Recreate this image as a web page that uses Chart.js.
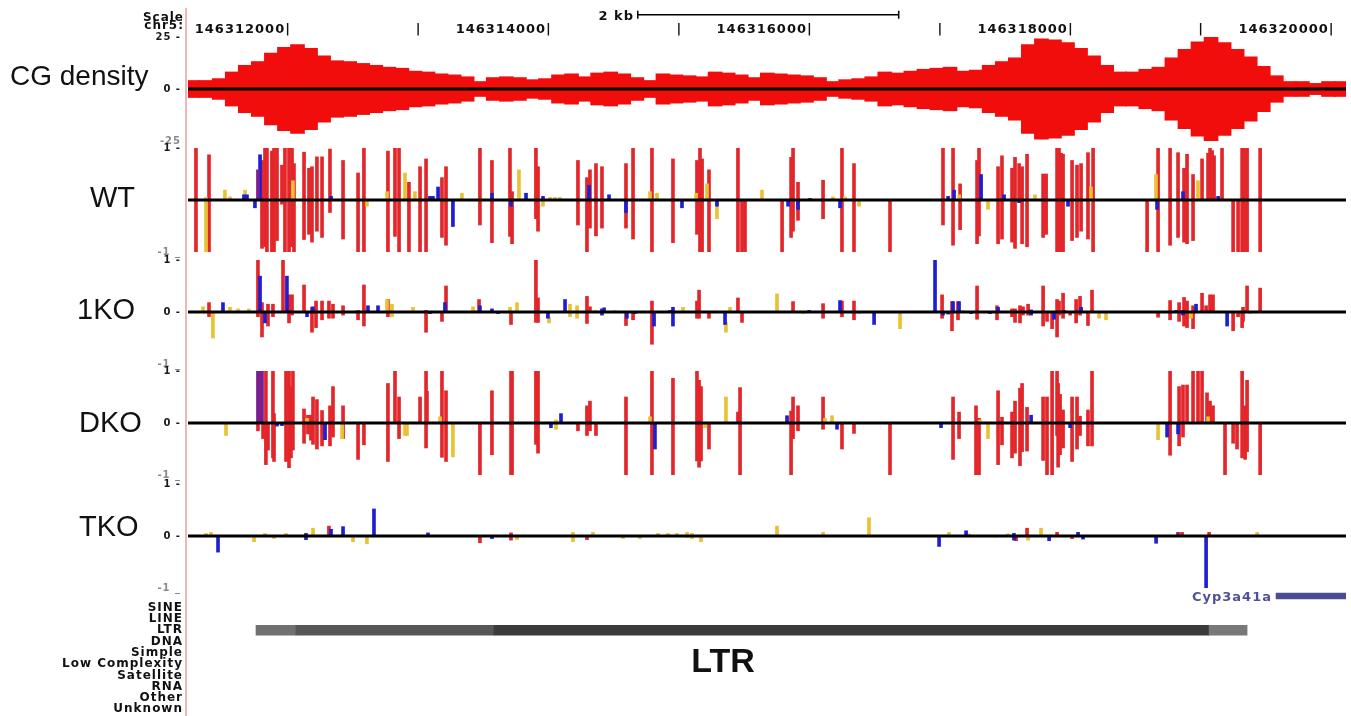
<!DOCTYPE html>
<html lang="en">
<head>
<meta charset="UTF-8">
<title>CG density and methylation tracks, chr5</title>
<script src="https://cdn.jsdelivr.net/npm/chart.js"></script>
<style>
  html, body { margin: 0; padding: 0; background: #fff; }
  body { position: relative; width: 1351px; height: 716px; overflow: hidden; }
  canvas { position: absolute; left: 0; }
  .txt { position: absolute; white-space: nowrap; }
  .small { font: bold 12px 'DejaVu Sans', sans-serif; letter-spacing: 1px; line-height: 12px; color: #111; text-align: right; }
  .track { font: 29px 'Liberation Sans', Arial, sans-serif; line-height: 29px; color: #111; }
  #edge { position: absolute; left: 185px; top: 8px; width: 1.5px; height: 708px; background: #f2b4b4; }
</style>
</head>
<body>
  <div id="edge"></div>

  <canvas id="ruler" width="1351" height="36" style="top:0"></canvas>
  <canvas id="cg" width="1351" height="130" style="top:24px"></canvas>
  <canvas id="wt" width="1351" height="130" style="top:135px"></canvas>
  <canvas id="ko1" width="1351" height="130" style="top:247px"></canvas>
  <canvas id="dko" width="1351" height="130" style="top:358px"></canvas>
  <canvas id="tko" width="1351" height="130" style="top:471px"></canvas>
  <canvas id="gene" width="1351" height="32" style="top:580px"></canvas>
  <canvas id="rmsk" width="1351" height="153" style="top:582px"></canvas>

  <div class="txt small" style="right:1167px; top:10.5px">Scale</div>
  <div class="txt small" style="right:1167px; top:19px">chr5:</div>
  <div class="txt small" style="right:717px; top:8.5px; font-size:13px; line-height:13px">2 kb</div>
  <div class="txt small" style="right:79px; top:590px; font-size:13px; line-height:13px; color:#50509a">Cyp3a41a</div>

  <div class="txt track" style="left:10px; top:62px; font-size:28px; line-height:28px">CG density</div>
  <div class="txt track" style="left:90px; top:183px">WT</div>
  <div class="txt track" style="left:77px; top:295px">1KO</div>
  <div class="txt track" style="left:79px; top:408px">DKO</div>
  <div class="txt track" style="left:79px; top:512px">TKO</div>
  <div class="txt" style="left:623px; width:200px; text-align:center; top:643px; font: bold 34px 'Liberation Sans', Arial, sans-serif; line-height:34px; color:#111">LTR</div>

<script>
  // window on chr5 and ruler
  const chromBase = 146311000;
  const viewStart = 146311211;
  const viewEnd = 146320084;
  const rulerTicks = [146312000, 146313000, 146314000, 146315000, 146316000,
                      146317000, 146318000, 146319000, 146320000];
  const scaleBar = [146314659, 146316659];

  // CG density, 100 bp bins starting at cgStart (drawn mirrored)
  const cgStart = 146311250, cgStep = 100;
  const cgDensity = [
    4.1, 4.1, 5.0, 8.2, 11.4, 13.2, 17.3, 20.0, 21.4, 19.5,
    15.9, 13.6, 13.2, 12.3, 11.4, 10.5, 10.0, 8.6, 8.2, 7.3,
    6.8, 5.9, 3.6, 5.5, 5.9, 5.5, 4.5, 5.0, 6.8, 7.3,
    5.9, 7.7, 8.2, 7.3, 5.5, 4.1, 7.3, 6.8, 6.4, 5.9,
    8.2, 7.7, 6.8, 5.5, 7.7, 7.3, 6.8, 6.4, 5.5, 3.6,
    4.5, 5.0, 5.9, 8.2, 7.7, 8.6, 9.5, 10.0, 10.5, 8.6,
    9.1, 11.4, 13.2, 15.0, 21.4, 24.1, 23.6, 22.3, 19.5, 15.9,
    11.4, 8.2, 8.2, 9.5, 10.5, 15.0, 19.1, 22.7, 25.0, 22.3,
    19.1, 15.5, 10.9, 6.4, 3.6, 3.6, 2.7, 3.6, 3.6
  ];

  // methylation bars: [offset from chromBase (bp), low, high]
  const wtCG = [
    [272,-1,1],[372,-1,0.87],[778,-0.93,0.76],[801,-0.9,1],[816,-1,1],[854,-1,0.94],[870,-1,1],
    [893,-0.78,1],[931,-0.08,0.67],[954,-1,1],[985,-1,1],[1008,-0.9,1],[1023,-1,0.7],
    [1100,-0.76,0.92],[1138,-0.66,0.61],[1161,-0.81,0.64],[1199,-0.6,0.83],[1238,-0.72,0.83],
    [1299,-0.24,0.98],[1399,-0.75,0.76],[1514,-1,0.52],[1559,-1,1],[1743,-1,0.94],[1797,-0.7,1],
    [1828,-1,1],[1904,-1,0.34],[1989,-1,0.64],[2035,-1,0.79],[2157,-0.72,0.43],[2188,-0.87,0.64],
    [2448,-0.48,1],[2540,-0.82,0.76],[2678,-0.7,1],[2694,-0.84,0.16],[2877,-0.36,1],[2893,-0.6,0.64],
    [3199,-0.48,0.76],[3268,-1,0.43],[3291,-0.54,0.58],[3337,-0.69,0.7],[3383,-0.54,0.64],
    [3567,-0.54,0.7],[3621,-0.75,1],[3766,-1,1],[3927,-0.82,0.79],[4111,-0.66,0.76],[4134,-1,1],
    [4150,-1,0.79],[4203,-1,0.58],[4425,-1,1],[4456,-1,0],[4479,-1,0],[4763,-1,0],[4832,-0.72,0.82],
    [4847,-0.6,1],[4885,-0.39,0.34],[5077,-0.36,0.38],[5222,-1,1],[5314,-1,0.7],[5590,-1,0],
    [5996,-0.48,1],[6073,-0.87,1],[6127,-0.57,0.31],[6257,-0.84,0.76],[6272,-0.69,1],[6418,-0.84,0.64],
    [6448,-0.75,0.85],[6525,-0.81,0.61],[6548,-0.93,0.82],[6579,-0.02,0.7],[6602,-0.84,0.64],
    [6640,-0.9,0.88],[6763,-0.72,0.5],[6786,-0.66,0.5],[6870,-1,1],[6885,-1,1],[6901,-1,0.9],
    [6916,-1,0.88],[6985,-0.78,0.76],[7023,-0.72,0.67],[7054,-0.6,0.7],[7107,-0.75,0.91],[7146,-1,1],
    [7560,-1,0],[7644,-1,1],[7736,-0.87,1],[7797,-0.72,0.91],[7843,-0.81,0.61],[7866,-0.84,0.88],
    [7912,-0.78,0.49],[7981,0,0.79],[8027,0,0.9],[8042,0,1],[8058,0,0.95],[8073,0,0.85],[8134,0,1],
    [8219,-1,0],[8257,-1,0],[8288,-1,1],[8303,-1,1],[8326,-1,1],[8426,-1,1]
  ];
  const wtCHG = [
    [640,0,0.1],[663,0,0.1],[724,-0.15,0],[763,0,0.87],[1307,0,0.07],[2065,0,0.07],[2088,0,0.07],
    [2127,0,0.25],[2241,-0.51,0],[2540,0,0.13],[2686,-0.12,0],[2801,0,0.13],[2931,0,0.07],[3284,0,0.28],
    [3437,0,0.1],[3567,-0.24,0],[3996,-0.15,0],[4264,-0.12,0],[4809,-0.12,0],[4885,-0.18,0],[4977,0,0.03],
    [5207,-0.15,0],[6035,0,0.07],[6081,0,0.19],[6288,0,0.49],[6464,0,0.1],[6579,-0.05,0],[6954,-0.12,0],
    [7636,-0.18,0],[7835,0,0.16],[8104,0,0.07]
  ];
  const wtCHH = [
    [349,-1,0.05],[494,0,0.19],[533,0,0.06],[648,0,0.19],[1015,0,0.37],[1582,-0.12,0],[1736,0,0.16],
    [1874,0,0.52],[1950,0,0.16],[2310,0,0.13],[2747,0,0.58],[2931,-0.12,0],[2985,0,0.05],[3023,0,0.05],
    [3061,0,0.05],[3751,0,0.16],[3805,0,0.13],[4104,0,0.13],[4188,0,0.31],[4264,-0.36,0],[4609,0,0.19],
    [5153,0,0.06],[5245,0,0.06],[5353,-0.12,0],[6120,0,0.1],[6341,-0.18,0],[6701,0,0.1],[7130,0,0.25],
    [7628,0,0.49],[7950,0,0.37]
  ];
  const wtMix = [[747,0,0.58]];

  const ko1CG = [
    [372,-0.09,0.18],[747,-0.09,1],[778,-0.48,0.18],[824,-0.27,0.15],[862,-0.09,0.15],[939,0,1],
    [985,-0.21,0.33],[1008,-0.06,0.33],[1100,0,0.52],[1161,-0.39,0.09],[1192,-0.3,0.21],[1238,-0.15,0.21],
    [1291,-0.12,0.21],[1322,-0.12,0.15],[1399,-0.06,0.12],[1514,-0.15,0.03],[1559,-0.27,0.52],
    [1743,-0.09,0.24],[2035,-0.39,0.03],[2157,-0.18,0],[2188,0,0.5],[2441,0,0.24],[2686,-0.24,0],
    [2877,-0.2,1],[2893,-0.2,0.27],[3268,-0.22,0.3],[3291,0,0.1],[3567,-0.26,0],[3621,-0.15,0],
    [3766,-0.62,0.21],[4111,-0.12,0.21],[4127,-0.12,0.42],[4203,-0.12,0],[4425,0,0.27],[4456,-0.2,0],
    [4847,0,0.2],[5077,-0.12,0.16],[5222,-0.09,0.21],[5314,-0.15,0.21],[5989,-0.12,0.33],[6065,-0.36,0.2],
    [6111,-0.15,0.2],[6257,-0.14,0.5],[6410,-0.15,0.12],[6525,-0.09,0.06],[6548,-0.2,0.06],
    [6586,-0.21,0.12],[6609,-0.06,0.1],[6648,-0.06,0.15],[6763,-0.27,0.5],[6793,-0.18,0],[6832,-0.32,0],
    [6870,-0.48,0.24],[6885,-0.06,0.21],[6916,-0.12,0.36],[6970,-0.06,0],[7016,-0.21,0.24],
    [7046,-0.06,0.3],[7107,-0.26,0],[7138,0,0.42],[7644,-0.1,0],[7736,-0.15,0.22],[7805,-0.18,0.18],
    [7843,-0.27,0.28],[7866,-0.3,0.21],[7912,-0.32,0.12],[7981,0,0.36],[8012,0,0.12],[8042,0,0.33],
    [8065,0,0.33],[8219,-0.36,0],[8257,-0.09,0],[8288,-0.3,0],[8295,-0.18,0.09],[8326,0,0.5],[8426,0,0.46]
  ];
  const ko1CHG = [
    [479,0,0.18],[763,0,0.69],[801,-0.21,0],[969,0,0.69],[1123,-0.09,0],[1168,0,0.1],[1590,0,0.12],
    [1667,0,0.12],[2065,-0.03,0],[2180,0,0.18],[2448,0,0.12],[2540,0,0.06],[2586,-0.03,0],[2969,-0.12,0],
    [3100,0,0.24],[3383,-0.06,0.06],[3399,0,0.08],[3574,-0.12,0],[3636,-0.03,0],[3782,-0.27,0],
    [3904,0,0.03],[3927,-0.27,0.09],[4326,-0.24,0],[4970,0,0.03],[5207,0,0.22],[5468,-0.24,0],
    [5935,0,1],[5996,-0.06,0],[6035,-0.04,0],[6073,0,0.2],[6119,0,0.2],[6211,-0.03,0],[6356,-0.03,0],
    [6418,0,0.09],[6671,-0.06,0.04],[6847,-0.14,0],[6924,0,0.03],[7054,0,0.09],[7782,0,0.03],
    [7835,-0.06,0.03],[7935,0,0.15],[8173,-0.27,0]
  ];
  const ko1CHH = [
    [326,0,0.1],[402,-0.5,0],[533,0,0.09],[594,0,0.06],[678,0,0.06],[1736,0,0.24],[1774,-0.09,0.15],
    [1935,0,0.09],[2395,0,0.1],[2678,0,0.09],[2732,0,0.18],[2977,-0.21,-0.1],[3138,-0.09,0.15],
    [3192,-0.12,0.12],[3330,0,0.03],[3483,0,0.03],[4004,0,0.09],[4333,-0.39,-0.2],[4364,0,0.09],
    [4724,0,0.35],[4924,-0.03,0],[5353,-0.03,0],[5667,-0.32,0],[6150,0,0.03],[7192,-0.12,0],
    [7245,-0.15,0],[7897,-0.12,0],[8349,-0.03,0]
  ];

  const dkoCG = [
    [747,-0.15,0],[786,-0.3,0],[808,-0.8,1],[824,-0.52,0],[862,-0.67,1],[870,-0.74,0.18],[962,-0.74,1],
    [985,-0.86,1],[1000,-0.67,0.7],[1015,-0.52,1],[1100,-0.39,0.27],[1130,-0.21,0.15],[1153,-0.33,0.15],
    [1169,-0.41,0.5],[1199,-0.5,0.45],[1238,-0.44,0.24],[1299,-0.44,0.33],[1322,-0.27,0.7],
    [1399,-0.3,0.33],[1514,-0.7,0],[1559,-0.42,0],[1743,-0.74,0.76],[1797,0,1],[1828,-0.3,0.5],
    [1989,0,0.5],[2035,-0.48,1],[2042,0,0.61],[2157,-0.66,1],[2188,-0.74,0.62],[2448,-1,0],
    [2540,-0.61,0.62],[2686,-1,1],[2694,-1,1],[2877,-0.41,1],[2893,-0.58,1],[3199,-0.15,0],
    [3268,-0.24,0.33],[3291,-0.15,0.42],[3337,-0.24,0],[3567,-1,0.5],[3766,-1,1],[3927,-1,0.86],
    [4111,-0.73,1],[4127,-0.85,0.82],[4142,-0.73,0.7],[4203,-0.5,0],[4425,0,0.21],[4441,-1,0.68],
    [4832,-1,0.23],[4847,-0.3,0.5],[4885,-0.15,0.33],[5077,-0.12,0.5],[5222,-0.5,0],[5314,-0.2,0],
    [5590,-1,0],[6073,-0.7,0.5],[6119,-0.3,0.21],[6249,-1,0.33],[6272,-1,0.09],[6418,-0.8,0.62],
    [6448,-0.42,0.11],[6525,-0.67,0.21],[6548,-0.58,0.42],[6586,-0.82,0.67],[6602,-0.55,0.76],
    [6640,-0.54,0.3],[6763,-0.72,0.5],[6793,-1,0.5],[6832,-1,1],[6870,-0.24,1],[6878,-0.85,0.76],
    [6893,-0.61,0.55],[6916,-0.48,0.25],[6985,-0.74,0.5],[7023,-0.5,0.5],[7046,-0.24,0.13],
    [7107,-0.44,0.25],[7138,-0.44,1],[7736,-0.62,1],[7805,-0.44,0.7],[7835,-0.27,0.73],[7866,0,0.73],
    [7912,0,1],[7950,0,1],[7981,0,1],[8019,0,0.58],[8042,0,0.42],[8065,0,0.33],[8157,-1,0],
    [8219,-0.39,0],[8249,-0.5,0],[8288,-0.67,1],[8311,-0.7,0.33],[8326,-0.55,0.82],[8426,-1,0]
  ];
  const dkoCHG = [
    [893,-0.06,0],[931,-0.05,0],[1261,-0.32,0],[2992,-0.09,0],[3069,0,0.18],[3789,-0.5,0],
    [4801,0,0.14],[5184,-0.12,0],[5981,-0.09,0],[6671,0,0.15],[6970,-0.09,0],[7713,-0.27,0],[7797,-0.21,0]
  ];
  const dkoCHH = [
    [502,-0.24,0],[1123,0,0.09],[1392,-0.3,0],[1874,-0.24,0],[1889,-0.24,0],[2142,0,0.12],[2241,-0.65,0],
    [3031,-0.12,0.06],[3751,0,0.12],[4173,-0.09,0],[4333,0,0.5],[5092,0,0.09],[5146,0,0.14],
    [6280,0,0.06],[6341,-0.3,0],[7644,-0.32,0],[8027,0,0.12]
  ];
  const dkoMix = [[747,0,1],[763,0,1],[778,0,1]];

  const tkoCG = [
    [1291,0,0.19],[2448,-0.13,0],[2686,-0.08,0.06],[3268,-0.07,0],[6556,-0.09,0],[6640,0,0.15],
    [6870,0,0.07],[6985,-0.05,0],[7828,0,0.07],[8035,0,0.07]
  ];
  const tkoCHG = [
    [441,-0.31,0],[1115,-0.07,0.05],[1307,0,0.13],[1399,0,0.18],[1636,0,0.52],[2050,0,0.06],
    [2540,-0.05,0],[5966,-0.2,0],[6173,0,0.1],[6540,-0.08,0.05],[6809,-0.09,0],[7031,0,0.07],
    [7069,-0.06,0],[7629,-0.14,0],[8012,-1,0]
  ];
  const tkoCHH = [
    [349,0,0.05],[387,0,0.07],[717,-0.11,0],[801,0,0.05],[870,-0.05,0],[962,0,0.05],[1169,0,0.15],
    [1475,-0.11,0],[1582,-0.15,0],[2732,-0.07,0],[3161,-0.11,0.07],[3314,0,0.07],[3544,-0.05,0],
    [3674,-0.05,0],[3812,0,0.05],[3889,0,0.05],[3958,0,0.05],[4035,-0.03,0.07],[4073,-0.05,0.05],
    [4142,-0.11,0],[4724,0,0.19],[5077,0,0.07],[5429,0,0.35],[6042,0,0.07],[6196,0,0.04],
    [6395,-0.02,0],[6494,0,0.04],[6648,-0.08,0],[6747,0,0.15],[8403,0,0.07]
  ];
  const tkoMix = [[7797,0,0.07]];

  // y tick labels
  const cgTicks = [-25, 0, 25], cgTickLabels = ['-25', '0 -', '25 -'];
  const wtTicks = [-1, 1], wtTickLabels = ['-1 _', '1 -'];
  const koTicks = [-1, 0, 1], koTickLabels = ['-1 _', '0 -', '1 -'];

  // gene and RepeatMasker
  const geneName = 'Cyp3a41a';
  const geneSpan = [146319548, 146320600];
  const repeatClasses = ['SINE', 'LINE', 'LTR', 'DNA', 'Simple', 'Low Complexity',
                         'Satellite', 'RNA', 'Other', 'Unknown'];
  const ltrStart = [146311732, 146312038, 146313556, 146319035];
  const ltrEnd   = [146312038, 146313556, 146319035, 146319326];
  const ltrScore = [0.56, 0.66, 0.77, 0.53];

  Chart.defaults.font.family = "'DejaVu Sans', sans-serif";
  Chart.defaults.events = [];
  Chart.defaults.plugins.legend.display = false;
  Chart.defaults.plugins.tooltip.enabled = false;

  const colours = { cg: '#e3262a', chg: '#1e1ed2', chh: '#e9c233', mix: '#7b1f8f' };
  const tickFont = { size: 10, weight: 'bold' };

  // UCSC text is stretched wide, a bit of letter spacing gets close
  const wideText = { id: 'wideText', beforeDraw(chart) { chart.ctx.letterSpacing = '1px'; } };

  const zeroLine = {
    id: 'zeroLine',
    afterDatasetsDraw(chart) {
      const { ctx, chartArea: a, scales: { y } } = chart;
      const py = y.getPixelForValue(0);
      ctx.save();
      ctx.strokeStyle = '#000';
      ctx.lineWidth = 3;
      ctx.beginPath();
      ctx.moveTo(a.left, py);
      ctx.lineTo(a.right, py);
      ctx.stroke();
      ctx.restore();
    }
  };

  function bars(rows, colour) {
    return {
      data: rows.map(([off, lo, hi]) => ({ x: chromBase + off, y: [lo, hi] })),
      backgroundColor: colour,
      borderWidth: 0,
      barThickness: 3,
      grouped: false
    };
  }

  function trackChart(id, datasets, range, ticks, labels) {
    return new Chart(document.getElementById(id), {
      type: 'bar',
      data: { datasets },
      options: {
        responsive: false,
        animation: false,
        devicePixelRatio: 1,
        layout: { padding: { top: 10, bottom: 10, left: 0, right: 5 } },
        scales: {
          x: { type: 'linear', min: viewStart, max: viewEnd, display: false, offset: false, grid: { offset: false } },
          y: {
            min: -range, max: range,
            grid: { display: false, drawTicks: false },
            border: { display: false },
            afterFit: s => { s.width = 188; },
            afterBuildTicks: s => { s.ticks = ticks.map(v => ({ value: v })); },
            ticks: {
              padding: 7,
              font: tickFont,
              color: c => c.tick.value < 0 ? '#8a8a8a' : '#1a1a1a',
              callback: (v, i) => labels[i]
            }
          }
        }
      },
      plugins: [zeroLine, wideText]
    });
  }

  // methylation tracks: mixed and CHG drawn on top, CG underneath
  function contextSets(cg, chg, chh, mix) {
    const sets = [];
    if (mix) sets.push(bars(mix, colours.mix));
    sets.push(bars(chg, colours.chg), bars(chh, colours.chh), bars(cg, colours.cg));
    return sets;
  }

  // ruler with 2 kb scale bar
  new Chart(document.getElementById('ruler'), {
    type: 'line',
    data: {
      datasets: [{
        data: scaleBar.map(x => ({ x, y: 0 })),
        borderColor: '#000',
        borderWidth: 1.5,
        pointStyle: 'line',
        pointRotation: 90,
        pointRadius: 4,
        pointBorderColor: '#000',
        pointBorderWidth: 1.5
      }]
    },
    options: {
      responsive: false,
      animation: false,
      devicePixelRatio: 1,
      layout: { padding: { top: 7.6, bottom: 0, left: 188, right: 5 } },
      scales: {
        x: {
          type: 'linear', min: viewStart, max: viewEnd, position: 'bottom', offset: false,
          grid: { display: false, drawTicks: false },
          border: { display: false },
          afterBuildTicks: s => { s.ticks = rulerTicks.map(v => ({ value: v })); },
          ticks: {
            autoSkip: false, maxRotation: 0, align: 'end', padding: 0,
            font: { size: 13, weight: 'bold' }, color: '#111',
            callback: v => (v % 2000 === 0 ? String(v) : '') + '|'
          }
        },
        y: { display: false, min: -1, max: 1 }
      }
    },
    plugins: [wideText]
  });

  // CG density, mirrored around zero
  trackChart('cg', [{
    data: cgDensity.map((v, i) => ({ x: cgStart + i * cgStep, y: [-v, v] })),
    backgroundColor: '#f20d0d',
    borderWidth: 0,
    barThickness: 14,
    grouped: false
  }], 25, cgTicks, cgTickLabels);

  trackChart('wt', contextSets(wtCG, wtCHG, wtCHH, wtMix), 1, wtTicks, wtTickLabels);
  trackChart('ko1', contextSets(ko1CG, ko1CHG, ko1CHH), 1, koTicks, koTickLabels);
  trackChart('dko', contextSets(dkoCG, dkoCHG, dkoCHH, dkoMix), 1, koTicks, koTickLabels);
  trackChart('tko', contextSets(tkoCG, tkoCHG, tkoCHH, tkoMix), 1, koTicks, koTickLabels);

  // gene model
  new Chart(document.getElementById('gene'), {
    type: 'bar',
    data: {
      labels: [geneName],
      datasets: [{ data: [{ y: geneName, x: geneSpan }], backgroundColor: '#4c4c95', barThickness: 6 }]
    },
    options: {
      indexAxis: 'y',
      responsive: false,
      animation: false,
      devicePixelRatio: 1,
      layout: { padding: { top: 10, bottom: 10, left: 188, right: 5 } },
      scales: {
        x: { type: 'linear', min: viewStart, max: viewEnd, display: false },
        y: { display: false }
      }
    }
  });

  // RepeatMasker, shade by score
  const shade = s => { const g = Math.round(255 * (1 - s)); return `rgb(${g},${g},${g})`; };
  new Chart(document.getElementById('rmsk'), {
    type: 'bar',
    data: {
      labels: repeatClasses,
      datasets: [{
        data: ltrStart.map((s, i) => ({ y: 'LTR', x: [s, ltrEnd[i]] })),
        backgroundColor: ltrScore.map(shade),
        barThickness: 10
      }]
    },
    options: {
      indexAxis: 'y',
      responsive: false,
      animation: false,
      devicePixelRatio: 1,
      layout: { padding: { top: 20, bottom: 20, left: 0, right: 5 } },
      scales: {
        x: { type: 'linear', min: viewStart, max: viewEnd, display: false },
        y: {
          grid: { display: false, drawTicks: false },
          border: { display: false },
          afterFit: s => { s.width = 188; },
          ticks: { autoSkip: false, padding: 5, color: '#111', font: { size: 12, weight: 'bold' } }
        }
      }
    },
    plugins: [wideText]
  });
</script>
</body>
</html>
